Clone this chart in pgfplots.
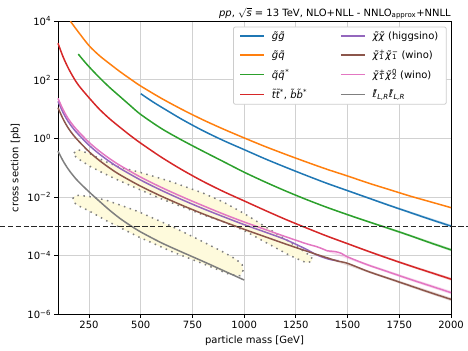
\documentclass[border=0pt]{standalone}
\usepackage{fontspec}
\setmainfont{DejaVu Sans}
\usepackage{pgfplots}
\pgfplotsset{compat=1.18}
\definecolor{tabblue}{HTML}{1F77B4}
\definecolor{taborange}{HTML}{FF7F0E}
\definecolor{tabgreen}{HTML}{2CA02C}
\definecolor{tabred}{HTML}{D62728}
\definecolor{tabpurple}{HTML}{9467BD}
\definecolor{tabbrown}{HTML}{8C564B}
\definecolor{tabpink}{HTML}{E377C2}
\definecolor{tabgray}{HTML}{7F7F7F}
\definecolor{bandfill}{RGB}{254,250,220}
\newcommand{\ssc}[2]{{\setbox0=\hbox{\textsuperscript{#1}}\setbox2=\hbox{\textsubscript{#2}}\ifdim\wd0>\wd2 \rlap{\box2}\box0\else\rlap{\box0}\box2\fi}}
\begin{document}
\begin{tikzpicture}
\begin{axis}[
  at={(0,0)}, anchor=south west,
  scale only axis, width=393pt, height=293pt,
  xmin=100, xmax=2000, ymin=-6, ymax=4,
  xtick={250,500,750,1000,1250,1500,1750,2000},
  ytick={-6,-4,-2,0,2,4},
  yticklabels={10\textsuperscript{−6},10\textsuperscript{−4},10\textsuperscript{−2},10\textsuperscript{0},10\textsuperscript{2},10\textsuperscript{4}},
  grid=major, grid style={line width=0.8pt, color=black!18},
  tick align=outside, xtick pos=bottom, ytick pos=left,
  major tick length=3.5pt, tick style={black, line width=0.8pt},
  axis line style={line width=0.8pt},
  xlabel={particle mass [GeV]}, ylabel={cross section [pb]},
  ticklabel style={font=\fontsize{10}{12}\selectfont},
  label style={font=\fontsize{10}{12}\selectfont},
  /pgf/number format/assume math mode=true, /pgf/number format/1000 sep={},
  clip=false,
  legend columns=2,
  legend style={at={(0.989,0.982)}, anchor=north east, draw=black!20, line width=0.8pt,
    rounded corners=2pt, fill=white,
    font=\fontsize{10}{12}\selectfont, row sep=5.5pt, inner xsep=6pt, inner ysep=2.5pt,
    /tikz/every odd column/.append style={column sep=5pt},
    /tikz/every even column/.append style={column sep=31pt}},
  legend cell align=left,
  legend image code/.code={\draw[#1, solid, line width=1.5pt, draw opacity=1] (0pt,0pt) -- (24pt,0pt);},
]
% bands
\addplot[forget plot, draw=tabgray, fill=bandfill, line width=1.5pt, dash pattern=on 1.5pt off 4.5pt] coordinates {
(178,-0.50) (185,-0.42) (200,-0.39) (260,-0.54) (330,-0.79) (400,-0.98) (500,-1.16) (650,-1.48) (800,-1.86) (900,-2.17) (1000,-2.56) (1100,-3.00) (1200,-3.44) (1270,-3.76) (1310,-3.96) (1330,-4.10) (1325,-4.20) (1300,-4.24) (1220,-3.99) (1100,-3.53) (1000,-3.14) (900,-2.84) (800,-2.60) (700,-2.33) (600,-2.06) (500,-1.76) (400,-1.45) (330,-1.22) (260,-0.97) (210,-0.75) (185,-0.62) (178,-0.50)};
\addplot[forget plot, draw=tabgray, fill=bandfill, line width=1.5pt, dash pattern=on 1.5pt off 4.5pt] coordinates {
(172,-2.05) (180,-1.96) (200,-1.94) (250,-1.98) (330,-2.10) (400,-2.27) (490,-2.50) (650,-3.00) (780,-3.45) (900,-3.88) (960,-4.12) (990,-4.30) (995,-4.50) (980,-4.68) (930,-4.64) (800,-4.27) (650,-3.86) (490,-3.36) (330,-2.79) (250,-2.47) (200,-2.30) (180,-2.20) (172,-2.05)};
% faint uncertainty bands
\addplot[forget plot, draw=none, fill=tabblue, fill opacity=0.2] coordinates {
(1400,-1.51) (1600,-2.00) (1800,-2.48) (2000,-2.94) (2000,-3.04) (1800,-2.56) (1600,-2.06) (1400,-1.55) (1400,-1.51)};
\addplot[forget plot, draw=none, fill=tabgreen, fill opacity=0.2] coordinates {
(1400,-2.33) (1600,-2.81) (1800,-3.27) (2000,-3.75) (2000,-3.85) (1800,-3.35) (1600,-2.87) (1400,-2.37) (1400,-2.33)};
\addplot[forget plot, draw=none, fill=tabred, fill opacity=0.2] coordinates {
(1400,-3.31) (1600,-3.82) (1800,-4.30) (2000,-4.75) (2000,-4.85) (1800,-4.38) (1600,-3.88) (1400,-3.35) (1400,-3.31)};
\addplot[forget plot, draw=none, fill=tabpink, fill opacity=0.25] coordinates {
(1400,-3.80) (1600,-4.28) (1800,-4.75) (2000,-5.20) (2000,-5.32) (1800,-4.85) (1600,-4.36) (1400,-3.86) (1400,-3.80)};
\addplot[forget plot, draw=none, fill=tabbrown, fill opacity=0.2] coordinates {
(1400,-4.04) (1600,-4.50) (1800,-4.97) (2000,-5.43) (2000,-5.55) (1800,-5.07) (1600,-4.58) (1400,-4.10) (1400,-4.04)};
% gluino pair
\addplot[color=tabblue, line width=1.5pt, smooth] coordinates {
(500,1.53) (550,1.29) (600,1.07) (700,0.65) (800,0.27) (900,-0.07) (1000,-0.38) (1100,-0.69) (1200,-0.98) (1300,-1.26) (1400,-1.53) (1500,-1.78) (1600,-2.03) (1700,-2.28) (1800,-2.52) (1900,-2.76) (2000,-2.99)};
\addlegendentry{\textit{\~g\~g}}
% higgsino
\addplot[color=tabpurple, line width=1.5pt, smooth] coordinates {
(100,1.27) (125,0.88) (150,0.57) (175,0.33) (200,0.13) (250,-0.23) (300,-0.53) (350,-0.79) (400,-1.02) (500,-1.42) (600,-1.77) (700,-2.09) (800,-2.39) (900,-2.67) (1000,-2.94) (1100,-3.19) (1200,-3.45) (1300,-3.78) (1350,-3.97) (1400,-4.10) (1430,-4.15) (1456,-4.17)};
\addlegendentry{\textit{\~χ\~χ} (higgsino)}
% gluino squark
\addplot[color=taborange, line width=1.5pt, smooth] coordinates {
(160,4.00) (200,3.62) (250,3.17) (300,2.83) (350,2.55) (400,2.28) (450,2.03) (500,1.79) (600,1.37) (700,0.99) (800,0.64) (900,0.32) (1000,0.02) (1100,-0.27) (1200,-0.54) (1300,-0.80) (1400,-1.05) (1500,-1.28) (1600,-1.52) (1700,-1.74) (1800,-1.96) (1900,-2.16) (2000,-2.36)};
\addlegendentry{\textit{\~g\~q}}
% wino C1C1
\addplot[color=tabbrown, line width=1.5pt, smooth] coordinates {
(100,1.05) (125,0.66) (150,0.35) (175,0.11) (200,-0.09) (250,-0.45) (300,-0.75) (350,-1.01) (400,-1.24) (500,-1.63) (600,-1.97) (700,-2.28) (800,-2.57) (900,-2.84) (1000,-3.10) (1100,-3.35) (1200,-3.60) (1300,-3.84) (1400,-4.07) (1450,-4.18) (1500,-4.26) (1600,-4.54) (1700,-4.78) (1800,-5.02) (1900,-5.26) (2000,-5.49)};
\addlegendentry{\textit{\~χ}\ssc{+}{1}\textit{\~χ}\ssc{−}{1} (wino)}
% squark antisquark
\addplot[color=tabgreen, line width=1.5pt, smooth] coordinates {
(198,2.88) (225,2.65) (250,2.45) (300,2.08) (350,1.74) (400,1.43) (450,1.12) (500,0.82) (600,0.34) (700,-0.06) (800,-0.43) (900,-0.79) (1000,-1.15) (1100,-1.48) (1200,-1.79) (1300,-2.08) (1400,-2.35) (1500,-2.60) (1600,-2.84) (1700,-3.07) (1800,-3.31) (1900,-3.56) (2000,-3.80)};
\addlegendentry{\textit{\~q\~q}\textsuperscript{*}}
% wino C1N2
\addplot[color=tabpink, line width=1.5pt, smooth] coordinates {
(100,1.37) (125,0.98) (150,0.67) (175,0.43) (200,0.23) (250,-0.13) (300,-0.43) (350,-0.69) (400,-0.92) (500,-1.32) (600,-1.67) (700,-1.99) (800,-2.29) (900,-2.58) (1000,-2.85) (1100,-3.10) (1200,-3.35) (1300,-3.59) (1350,-3.69) (1380,-3.77) (1400,-3.83) (1440,-3.86) (1470,-3.92) (1500,-4.04) (1600,-4.32) (1700,-4.56) (1800,-4.80) (1900,-5.03) (2000,-5.26)};
\addlegendentry{\textit{\~χ}\ssc{±}{1}\textit{\~χ}\ssc{0}{2} (wino)}
% stop / sbottom
\addplot[color=tabred, line width=1.5pt, smooth] coordinates {
(100,3.25) (125,2.78) (150,2.40) (175,2.08) (200,1.81) (250,1.39) (300,1.00) (350,0.67) (400,0.38) (450,0.10) (500,-0.16) (600,-0.64) (700,-1.07) (800,-1.46) (900,-1.81) (1000,-2.13) (1100,-2.45) (1200,-2.76) (1300,-3.05) (1400,-3.33) (1500,-3.59) (1600,-3.85) (1700,-4.10) (1800,-4.34) (1900,-4.57) (2000,-4.80)};
\addlegendentry{\textit{\~t\~t}\textsuperscript{*}, \textit{\~b\~b}\textsuperscript{*}}
% sleptons
\addplot[color=tabgray, line width=1.5pt, smooth] coordinates {
(100,-0.43) (125,-0.77) (150,-1.05) (175,-1.28) (200,-1.48) (250,-1.82) (300,-2.14) (350,-2.45) (400,-2.73) (450,-2.97) (500,-3.19) (600,-3.56) (700,-3.88) (800,-4.19) (900,-4.51) (1000,-4.83)};
\addlegendentry{\textit{\~ℓ}\textsubscript{\textit{L,R}}\textit{\~ℓ}\textsubscript{\textit{L,R}}}
% reference line
\addplot[forget plot, black!85, line width=1.2pt, dash pattern=on 5.5pt off 2.4pt] coordinates {(-181,-3) (2082,-3)};
% title
\node[anchor=base east, inner sep=0pt, font=\fontsize{10}{12}\selectfont] at (rel axis cs:1,1) [yshift=5pt] {\textit{pp}, $\sqrt{\textit{s}}$ = 13 TeV, NLO+NLL - NNLO\textsubscript{approx}+NNLL};
\end{axis}
\pgfresetboundingbox
\path[use as bounding box] (-58pt,-36pt) rectangle (410pt,314.3pt);
\end{tikzpicture}
\end{document}
